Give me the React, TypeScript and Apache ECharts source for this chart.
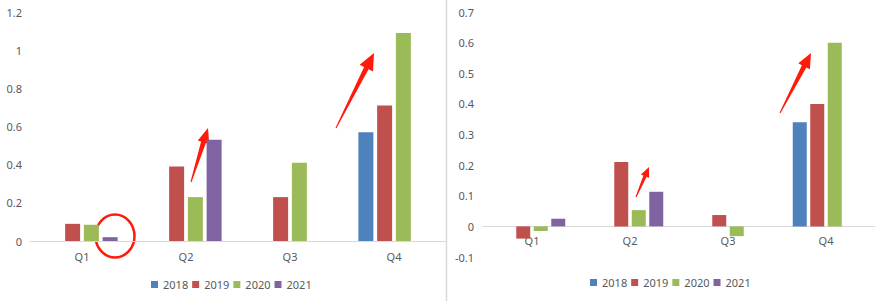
import React, { useEffect, useRef } from 'react';
import * as echarts from 'echarts';

const quarters = ['Q1', 'Q2', 'Q3', 'Q4'];
const years = ['2018', '2019', '2020', '2021'];
const colors = ['#4F81BD', '#C0504D', '#9BBB59', '#8064A2'];

const left2018 = [null, null, null, 0.57];
const left2019 = [0.09, 0.39, 0.23, 0.71];
const left2020 = [0.085, 0.23, 0.41, 1.09];
const left2021 = [0.02, 0.53, null, null];

const right2018 = [null, null, null, 0.34];
const right2019 = [-0.04, 0.21, 0.037, 0.4];
const right2020 = [-0.015, 0.053, -0.032, 0.6];
const right2021 = [0.025, 0.113, null, null];

const leftAxis = { min: 0, max: 1.2, interval: 0.2 };
const rightAxis = { min: -0.1, max: 0.7, interval: 0.1 };

const TEXT = '#595959';
const FONT = 'Noto Sans';
const RED = '#ff1a0a';

function arrowPoints(x1: number, y1: number, x2: number, y2: number, headLen: number, headW: number, tailW: number, neckW: number) {
  const dx = x2 - x1, dy = y2 - y1, len = Math.hypot(dx, dy);
  const ux = dx / len, uy = dy / len;
  const px = -uy, py = ux;
  const bx = x2 - ux * headLen, by = y2 - uy * headLen;
  return [
    [x1 + (px * tailW) / 2, y1 + (py * tailW) / 2],
    [bx + (px * neckW) / 2, by + (py * neckW) / 2],
    [bx + (px * headW) / 2, by + (py * headW) / 2],
    [x2, y2],
    [bx - (px * headW) / 2, by - (py * headW) / 2],
    [bx - (px * neckW) / 2, by - (py * neckW) / 2],
    [x1 - (px * tailW) / 2, y1 - (py * tailW) / 2],
  ];
}

export default function App() {
  const ref = useRef<HTMLDivElement>(null);
  useEffect(() => {
    if (!ref.current) return;
    const chart = echarts.init(ref.current, undefined, { renderer: 'svg' });
    const leftData = [left2018, left2019, left2020, left2021];
    const rightData = [right2018, right2019, right2020, right2021];
    const series: any[] = [];
    years.forEach((y, i) => {
      series.push({
        name: y, type: 'bar', xAxisIndex: 0, yAxisIndex: 0, data: leftData[i],
        barWidth: 15, barGap: '25%', itemStyle: { color: colors[i] },
      });
    });
    years.forEach((y, i) => {
      series.push({
        name: y, type: 'bar', xAxisIndex: 1, yAxisIndex: 1, data: rightData[i],
        barWidth: 14, barGap: '25%', itemStyle: { color: colors[i] },
      });
    });
    const rightHeight = 245;
    const zeroOffset = -(rightHeight * (0 - rightAxis.min)) / (rightAxis.max - rightAxis.min);
    const xAxisBase = (gridIndex: number, margin: number, offset: number) => ({
      type: 'category', gridIndex, data: quarters, offset,
      axisTick: { show: false },
      axisLine: { onZero: false, lineStyle: { color: '#d9d9d9', width: 1 } },
      axisLabel: { color: TEXT, fontSize: 11, fontFamily: FONT, margin },
      splitLine: { show: false },
    });
    const yAxisBase = (gridIndex: number, cfg: any, margin: number) => ({
      type: 'value', gridIndex, ...cfg,
      axisLine: { show: false }, axisTick: { show: false },
      splitLine: { show: false },
      axisLabel: { color: TEXT, fontSize: 11, fontFamily: FONT, margin },
    });
    const legendBase = (left: number, top: number) => ({
      data: years, left, top, itemWidth: 7, itemHeight: 7, itemGap: 4, padding: 0,
      icon: 'rect', textStyle: { color: TEXT, fontSize: 11, fontFamily: FONT },
    });
    chart.setOption({
      animation: false,
      grid: [
        { left: 30, top: 12, width: 416, height: 229 },
        { left: 483, top: 12, width: 392, height: rightHeight },
      ],
      xAxis: [xAxisBase(0, 10, 0), xAxisBase(1, 9, zeroOffset)],
      yAxis: [yAxisBase(0, leftAxis, 8), yAxisBase(1, rightAxis, 9)],
      legend: [legendBase(151, 279), legendBase(590, 277)],
      series,
      graphic: [
        { type: 'line', shape: { x1: 446.5, y1: 0, x2: 446.5, y2: 301 }, style: { stroke: '#d9d9d9', lineWidth: 1.5 } },
        { type: 'ellipse', shape: { cx: 115, cy: 236, rx: 19.5, ry: 21.5 }, style: { fill: 'none', stroke: RED, lineWidth: 2.5 } },
        { type: 'polygon', shape: { points: arrowPoints(191, 182, 208, 128, 15, 12, 1, 5) }, style: { fill: RED } },
        { type: 'polygon', shape: { points: arrowPoints(336, 128, 374, 53, 17, 15, 1, 5) }, style: { fill: RED } },
        { type: 'polygon', shape: { points: arrowPoints(636, 197, 649, 167, 10, 9, 1, 3.5) }, style: { fill: RED } },
        { type: 'polygon', shape: { points: arrowPoints(780, 113, 811, 53, 15, 13, 1, 5) }, style: { fill: RED } },
      ],
    });
    return () => chart.dispose();
  }, []);
  return <div ref={ref} style={{ position: 'absolute', left: 0, top: 0, width: 886, height: 301, background: '#fff' }} />;
}
